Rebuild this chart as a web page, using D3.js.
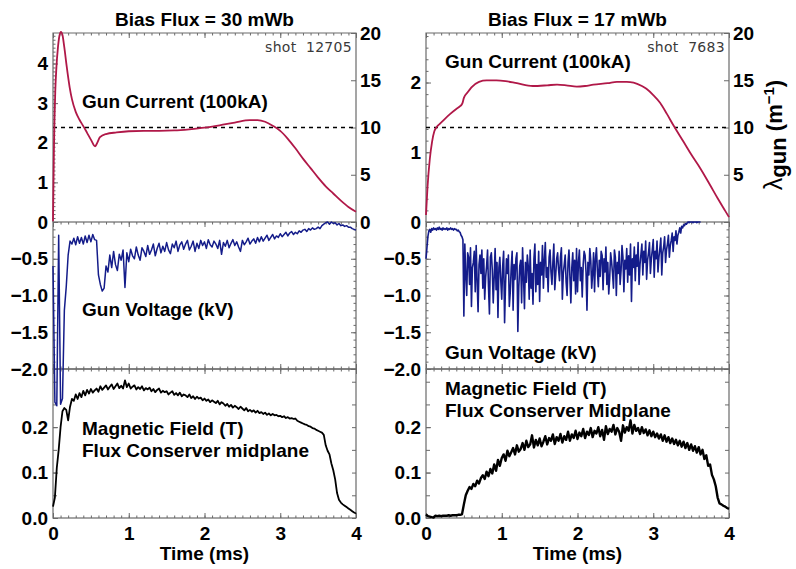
<!DOCTYPE html>
<html><head><meta charset="utf-8">
<script src="https://cdn.jsdelivr.net/npm/d3@7"></script>
<style>
body{margin:0;background:#fff;}
svg{display:block;background:#fff;}
</style></head><body><svg id="chart" width="796" height="569"></svg>
<script>
// ---------------- DATA ----------------
const titles = ["Bias Flux = 30 mWb", "Bias Flux = 17 mWb"];
const shotLabels = ["shot  12705", "shot  7683"];
const timeTicks = [0, 1, 2, 3, 4];
const currentTicks = [[1, 2, 3, 4], [1, 2]];
const currentAxisMax = [4.77, 2.71];      // 100 kA at lambda = 20 m^-1
const currentMinorStep = [0.1, 1 / 6];
const lambdaTicks = [[0, 5, 10, 15, 20], [5, 10, 15, 20]];
const lambdaRef = 10;
const voltageTicks = [0, -0.5, -1.0, -1.5, -2.0];
const fieldTicks = [0.0, 0.1, 0.2];
const voltageStep = [0.025, 0.0125]; // ms between digitized samples
const fieldStep = 0.025;

// Gun current (100 kA), shot 12705
const currentTime30 = [0,0.005,0.012,0.02,0.03,0.045,0.065,0.085,0.105,0.125,0.15,0.18,0.22,0.25,0.3,0.35,0.4,0.45,0.5,0.555,0.58,0.62,0.7,0.84,1.0,1.2,1.4,1.6,1.8,2.0,2.2,2.4,2.6,2.7,2.8,2.9,3.0,3.1,3.2,3.3,3.4,3.5,3.6,3.7,3.8,3.9,4.0];
const current30     = [0.02,0.8,1.8,2.6,3.3,3.9,4.4,4.7,4.8,4.72,4.4,3.94,3.4,3.1,2.78,2.58,2.42,2.25,2.08,1.91,1.98,2.14,2.22,2.26,2.29,2.30,2.30,2.31,2.34,2.38,2.44,2.51,2.57,2.57,2.53,2.43,2.30,2.10,1.86,1.60,1.36,1.12,0.90,0.72,0.54,0.38,0.26];
// Gun current (100 kA), shot 7683
const currentTime17 = [0,0.02,0.05,0.08,0.11,0.14,0.185,0.25,0.32,0.4,0.45,0.48,0.5,0.55,0.6,0.7,0.8,0.93,1.05,1.2,1.41,1.6,1.73,1.85,1.99,2.1,2.21,2.4,2.52,2.65,2.74,2.85,2.91,3.0,3.09,3.18,3.27,3.4,3.5,3.62,3.75,3.85,3.95,4.0];
const current17     = [0.1,0.5,0.9,1.15,1.3,1.36,1.41,1.48,1.55,1.62,1.66,1.70,1.78,1.86,1.93,2.01,2.03,2.03,2.02,1.99,1.95,1.96,1.97,1.96,1.94,1.95,1.97,1.99,2.01,2.01,2.00,1.95,1.91,1.82,1.71,1.55,1.38,1.15,0.97,0.77,0.53,0.34,0.16,0.07];

// Gun voltage (kV), shot 12705, one sample per 0.025 ms from t = 0
const voltage30 = [
-0.60,-2.45,-2.50,-0.18,-2.48,-2.40,-1.20,-0.88,-0.45,-0.26,
-0.30,-0.22,-0.31,-0.20,-0.29,-0.21,-0.30,-0.19,-0.28,-0.18,
-0.27,-0.17,-0.24,-0.25,-0.72,-0.85,-0.94,-0.90,-0.60,-0.68,
-0.45,-0.62,-0.40,-0.58,-0.66,-0.44,-0.52,-0.38,-0.89,-0.42,
-0.54,-0.37,-0.46,-0.50,-0.34,-0.45,-0.52,-0.35,-0.40,-0.47,
-0.32,-0.44,-0.38,-0.30,-0.46,-0.36,-0.29,-0.42,-0.33,-0.40,
-0.28,-0.38,-0.43,-0.30,-0.35,-0.26,-0.40,-0.31,-0.27,-0.37,
-0.30,-0.25,-0.38,-0.33,-0.26,-0.40,-0.29,-0.36,-0.25,-0.32,
-0.27,-0.36,-0.24,-0.31,-0.34,-0.26,-0.30,-0.36,-0.25,-0.44,
-0.28,-0.33,-0.25,-0.35,-0.29,-0.24,-0.32,-0.27,-0.34,-0.40,
-0.25,-0.31,-0.27,-0.22,-0.30,-0.26,-0.23,-0.29,-0.21,-0.27,
-0.20,-0.26,-0.22,-0.18,-0.25,-0.21,-0.17,-0.23,-0.19,-0.21,
-0.16,-0.20,-0.17,-0.14,-0.19,-0.15,-0.13,-0.17,-0.14,-0.16,
-0.12,-0.14,-0.11,-0.10,-0.13,-0.09,-0.11,-0.08,-0.10,-0.09,
-0.07,-0.09,-0.05,-0.03,-0.01,0.00,-0.03,0.00,-0.02,-0.01,
-0.04,-0.02,-0.05,-0.04,-0.06,-0.05,-0.07,-0.07,-0.09,-0.10,
-0.11];
// Gun voltage (kV), shot 7683, one sample per 0.0125 ms from t = 0
const voltage17 = [
-0.50,-0.35,-0.20,-0.12,-0.10,-0.14,-0.09,-0.11,-0.08,-0.10,-0.09,-0.11,-0.08,-0.10,-0.07,-0.10,-0.09,-0.11,-0.08,-0.10,
-0.09,-0.10,-0.08,-0.11,-0.09,-0.10,-0.08,-0.10,-0.09,-0.11,-0.09,-0.10,-0.10,-0.12,-0.11,-0.13,-0.14,-0.18,-0.20,-0.24,
-1.28,-0.30,-0.72,-1.00,-0.42,-0.48,-0.85,-0.35,-1.15,-0.62,-0.55,-0.40,-0.95,-0.32,-0.80,-1.22,-0.58,-0.45,-0.70,-0.38,
-0.90,-0.50,-1.05,-0.75,-0.60,-0.38,-0.88,-1.25,-0.48,-0.42,-0.65,-1.10,-0.75,-0.36,-0.92,-0.55,-1.30,-0.62,-0.48,-0.80,
-1.05,-0.60,-0.40,-1.37,-0.85,-0.50,-0.70,-0.45,-1.15,-0.95,-0.62,-0.40,-1.20,-0.58,-0.78,-0.50,-0.42,-1.49,-0.88,-0.60,
-0.52,-1.10,-0.35,-0.75,-1.18,-0.55,-0.82,-0.45,-0.60,-1.05,-0.38,-0.90,-0.70,-1.12,-0.50,-0.30,-0.95,-0.58,-0.85,-0.40,
-1.08,-0.55,-0.72,-0.32,-0.90,-0.52,-0.28,-0.75,-0.62,-0.95,-0.48,-0.38,-0.68,-0.85,-0.55,-0.30,-0.92,-0.72,-0.50,-0.42,
-0.65,-0.80,-0.48,-0.35,-1.05,-0.70,-0.58,-0.45,-0.82,-1.00,-0.55,-0.38,-0.75,-1.10,-0.62,-0.42,-0.80,-0.52,-0.98,-0.36,
-0.95,-0.55,-0.38,-0.80,-0.62,-1.02,-0.58,-0.40,-0.45,-0.68,-1.20,-0.55,-0.72,-0.36,-0.52,-0.90,-0.70,-0.42,-0.95,-0.50,
-0.35,-0.66,-0.88,-0.52,-0.74,-0.40,-0.45,-0.92,-0.50,-0.68,-0.34,-0.85,-0.55,-0.98,-0.76,-0.42,-0.54,-0.70,-0.90,-0.38,
-0.48,-1.00,-0.55,-0.70,-0.40,-0.85,-0.66,-0.32,-0.48,-0.95,-0.52,-0.64,-0.36,-0.82,-0.46,-0.72,-0.30,-1.08,-0.50,-0.62,
-0.34,-0.80,-0.45,-0.60,-0.28,-0.85,-0.58,-0.44,-0.30,-0.72,-0.40,-0.55,-0.26,-0.78,-0.52,-0.42,-0.28,-0.70,-0.50,-0.38,
-0.24,-0.75,-0.40,-0.50,-0.26,-0.68,-0.48,-0.36,-0.22,-0.72,-0.42,-0.34,-0.20,-0.55,-0.38,-0.30,-0.18,-0.48,-0.32,-0.25,
-0.15,-0.40,-0.20,-0.25,-0.12,-0.30,-0.18,-0.14,-0.08,-0.15,-0.06,-0.08,-0.04,-0.05,-0.02,-0.03,-0.01,0.00,-0.01,0.00,
0.00,0.00,-0.01,0.00,0.00,0.00,-0.01,0.00,0.00,0.00,0.00];

// Magnetic field (T), flux conserver midplane, shot 12705, one sample per 0.025 ms
const field30 = [
0.025,0.045,0.110,0.150,0.200,0.235,0.242,0.238,0.215,0.245,
0.262,0.258,0.272,0.262,0.275,0.266,0.280,0.270,0.282,0.274,
0.284,0.276,0.281,0.285,0.278,0.290,0.282,0.287,0.292,0.283,
0.289,0.294,0.284,0.290,0.296,0.286,0.291,0.285,0.303,0.288,
0.296,0.285,0.289,0.292,0.283,0.288,0.284,0.290,0.281,0.286,
0.283,0.287,0.279,0.284,0.277,0.282,0.285,0.276,0.280,0.277,
0.279,0.272,0.276,0.279,0.271,0.275,0.270,0.276,0.268,0.272,
0.270,0.266,0.272,0.264,0.268,0.262,0.267,0.263,0.265,0.259,
0.263,0.258,0.261,0.255,0.259,0.256,0.253,0.258,0.250,0.255,
0.252,0.247,0.251,0.245,0.249,0.243,0.247,0.244,0.240,0.245,
0.241,0.237,0.242,0.235,0.238,0.234,0.237,0.232,0.236,0.231,
0.233,0.229,0.232,0.227,0.230,0.226,0.229,0.226,0.227,0.224,
0.225,0.222,0.224,0.220,0.222,0.219,0.220,0.218,0.219,0.214,
0.212,0.210,0.208,0.206,0.205,0.202,0.201,0.198,0.197,0.194,
0.192,0.190,0.188,0.183,0.160,0.148,0.140,0.120,0.105,0.085,
0.055,0.040,0.034,0.030,0.027,0.024,0.021,0.018,0.015,0.012,
0.010];
// Magnetic field (T), flux conserver midplane, shot 7683, one sample per 0.025 ms
const field17 = [
0.008,0.004,0.003,0.002,0.001,0.005,0.004,0.005,0.004,0.005,
0.005,0.005,0.006,0.005,0.006,0.006,0.006,0.007,0.007,0.008,
0.030,0.050,0.060,0.068,0.064,0.075,0.070,0.082,0.076,0.088,
0.094,0.086,0.102,0.092,0.108,0.098,0.118,0.104,0.128,0.115,
0.132,0.140,0.126,0.148,0.136,0.145,0.154,0.140,0.160,0.146,
0.152,0.165,0.150,0.170,0.156,0.162,0.182,0.155,0.172,0.160,
0.175,0.158,0.168,0.180,0.162,0.176,0.170,0.184,0.163,0.178,
0.170,0.185,0.166,0.180,0.172,0.190,0.170,0.184,0.176,0.192,
0.174,0.188,0.180,0.196,0.176,0.190,0.183,0.198,0.178,0.192,
0.186,0.200,0.180,0.194,0.172,0.202,0.185,0.196,0.190,0.205,
0.184,0.198,0.190,0.170,0.204,0.188,0.200,0.192,0.215,0.186,
0.205,0.192,0.198,0.185,0.200,0.187,0.195,0.182,0.193,0.180,
0.190,0.178,0.186,0.175,0.184,0.170,0.182,0.168,0.178,0.165,
0.175,0.163,0.172,0.160,0.170,0.157,0.168,0.154,0.165,0.150,
0.162,0.148,0.158,0.144,0.156,0.140,0.150,0.130,0.138,0.115,
0.118,0.095,0.085,0.070,0.045,0.032,0.030,0.027,0.025,0.022,
0.020];

// ---------------- DRAWING ----------------
const svg = d3.select("#chart");
const FONT = "'Liberation Sans', Arial, Helvetica, sans-serif";
const frameColor = "#6a6a6a";
const currentColor = "#b01848";
const voltageColor = "#141c8a";
const fieldColor = "#000";

const columns = [{x0: 53, x1: 356}, {x0: 426, x1: 729}];
const rowTop = [33, 222], rowMid = [222, 369], rowBot = [369, 518];

const currents = [[currentTime30, current30], [currentTime17, current17]];
const voltages = [voltage30, voltage17];
const voltageWidths = [1.5, 1.6];
const fields = [field30, field17];
const fieldWidths = [1.8, 2.4];
const fieldMax = 0.328;

function styleAxis(g, size) {
  g.select(".domain").remove();
  g.attr("color", frameColor)
   .attr("font-family", FONT)
   .attr("font-size", size || 19)
   .attr("font-weight", "bold");
  g.selectAll("text").attr("fill", "#000");
  g.selectAll("line").attr("stroke-width", 1);
  return g;
}
function addAxis(gen, tx, ty, size) {
  const g = svg.append("g").attr("transform", `translate(${tx},${ty})`).call(gen);
  return styleAxis(g, size);
}
const fmtV = v => v === 0 ? "0" : d3.format(".1f")(v);
const fmtB = d3.format(".1f");

columns.forEach((col, c) => {
  const x = d3.scaleLinear().domain([0, 4]).range([col.x0, col.x1]);
  const yI = d3.scaleLinear().domain([0, currentAxisMax[c]]).range([rowTop[1], rowTop[0]]);
  const yL = d3.scaleLinear().domain([0, 20]).range([rowTop[1], rowTop[0]]);
  const yV = d3.scaleLinear().domain([-2, 0]).range([rowMid[1], rowMid[0]]);
  const yB = d3.scaleLinear().domain([0, fieldMax]).range([rowBot[1], rowBot[0]]);
  const minorT = x.ticks(40);

  // frames
  svg.append("path")
    .attr("d", `M${col.x0},${rowTop[1]}V${rowTop[0]}H${col.x1}V${rowTop[1]}`)
    .attr("fill", "none").attr("stroke", frameColor).attr("stroke-width", 1.2);
  [rowMid, rowBot].forEach(r => {
    svg.append("rect").attr("x", col.x0).attr("y", r[0])
      .attr("width", col.x1 - col.x0).attr("height", r[1] - r[0])
      .attr("fill", "none").attr("stroke", frameColor).attr("stroke-width", 1.2);
  });

  // time ticks on each horizontal frame line
  [[rowTop[0], "top"], [rowMid[0], "top"], [rowMid[1], "bottom"], [rowBot[0], "top"]].forEach(([yy, side]) => {
    const mk = side === "top" ? d3.axisTop : d3.axisBottom;
    addAxis(mk(x).tickValues(minorT).tickSize(-2.5).tickFormat(""), 0, yy);
    addAxis(mk(x).tickValues(timeTicks).tickSize(-5).tickFormat(""), 0, yy);
  });
  addAxis(d3.axisBottom(x).tickValues(minorT).tickSize(-2.5).tickFormat(""), 0, rowBot[1]);
  addAxis(d3.axisBottom(x).tickValues(timeTicks).tickSize(-5).tickPadding(9).tickFormat(d3.format("d")), 0, rowBot[1], 19);

  // current axis (left) and lambda axis (right)
  const cMinor = d3.range(0, currentAxisMax[c] + 1e-9, currentMinorStep[c]);
  addAxis(d3.axisLeft(yI).tickValues(cMinor).tickSize(-2.5).tickFormat(""), col.x0, 0);
  addAxis(d3.axisLeft(yI).tickValues(currentTicks[c]).tickSize(-5).tickPadding(5).tickFormat(d3.format("d")), col.x0, 0);
  addAxis(d3.axisRight(yL).tickValues(lambdaTicks[c]).tickSize(-5).tickPadding(4).tickFormat(d3.format("d")), col.x1, 0);

  // voltage axes
  const vMinor = yV.ticks(20);
  addAxis(d3.axisLeft(yV).tickValues(vMinor).tickSize(-2.5).tickFormat(""), col.x0, 0);
  addAxis(d3.axisLeft(yV).tickValues(voltageTicks).tickSize(-5).tickPadding(5).tickFormat(fmtV), col.x0, 0);
  addAxis(d3.axisRight(yV).tickValues(vMinor).tickSize(-2.5).tickFormat(""), col.x1, 0);
  addAxis(d3.axisRight(yV).tickValues(voltageTicks).tickSize(-5).tickFormat(""), col.x1, 0);

  // field axes
  const bMinor = yB.ticks(6);
  addAxis(d3.axisLeft(yB).tickValues(bMinor).tickSize(-4).tickFormat(""), col.x0, 0);
  addAxis(d3.axisLeft(yB).tickValues(fieldTicks).tickSize(-5).tickPadding(5).tickFormat(fmtB), col.x0, 0);
  addAxis(d3.axisRight(yB).tickValues(bMinor).tickSize(-4).tickFormat(""), col.x1, 0);

  // lambda = 10 reference line
  svg.append("line")
    .attr("x1", col.x0).attr("x2", col.x1)
    .attr("y1", yL(lambdaRef)).attr("y2", yL(lambdaRef))
    .attr("stroke", "#000").attr("stroke-width", 1.5).attr("stroke-dasharray", "4,4");

  // series
  const [ct, cv] = currents[c];
  const lineI = d3.line().x(i => x(ct[i])).y(i => yI(cv[i])).curve(d3.curveMonotoneX);
  svg.append("path").attr("d", lineI(d3.range(ct.length)))
    .attr("fill", "none").attr("stroke", currentColor).attr("stroke-width", 1.8);

  const lineV = d3.line().x((d, i) => x(i * voltageStep[c])).y(d => yV(d));
  svg.append("path").attr("d", lineV(voltages[c]))
    .attr("fill", "none").attr("stroke", voltageColor).attr("stroke-width", voltageWidths[c])
    .attr("stroke-linejoin", "round");

  const lineB = d3.line().x((d, i) => x(i * fieldStep)).y(d => yB(d));
  svg.append("path").attr("d", lineB(fields[c]))
    .attr("fill", "none").attr("stroke", fieldColor).attr("stroke-width", fieldWidths[c])
    .attr("stroke-linejoin", "round");

  // texts
  const T = (tx, ty, s, size, opts = {}) => svg.append("text")
    .attr("x", tx).attr("y", ty).text(s)
    .attr("font-family", opts.family || FONT)
    .attr("font-size", size)
    .attr("font-weight", opts.weight || "bold")
    .attr("fill", opts.fill || "#000")
    .attr("text-anchor", opts.anchor || "start")
    .attr("xml:space", "preserve")
    .style("white-space", "pre")
    .style("letter-spacing", opts.ls || "0px");

  T((col.x0 + col.x1) / 2, 26, titles[c], 19, {anchor: "middle"});
  T(col.x1 - 4, 52, shotLabels[c], 14, {anchor: "end", weight: "normal", fill: "#3a3a3a", family: "'DejaVu Sans', sans-serif", ls: "0.3px"});
  T((col.x0 + col.x1) / 2, 560, "Time (ms)", 19, {anchor: "middle"});
  if (c === 0) {
    T(82, 108, "Gun Current (100kA)", 19);
    T(82, 316, "Gun Voltage (kV)", 19);
    T(82, 435, "Magnetic Field (T)", 19);
    T(82, 457, "Flux Conserver midplane", 19);
  } else {
    T(445, 68, "Gun Current (100kA)", 19);
    T(445, 359, "Gun Voltage (kV)", 19);
    T(445, 395, "Magnetic Field (T)", 19);
    T(445, 417, "Flux Conserver Midplane", 19);
  }
});

// right-hand lambda label
const lab = svg.append("text")
  .attr("transform", "translate(782,135) rotate(-90)")
  .attr("text-anchor", "middle")
  .attr("font-family", FONT).attr("font-weight", "bold").attr("font-size", 22).attr("fill", "#000");
lab.append("tspan").attr("font-weight", "normal").attr("font-size", 25).text("λ");
lab.append("tspan").attr("dy", 4).text("gun");
lab.append("tspan").attr("dy", -4).text(" (m");
lab.append("tspan").attr("dy", -8).attr("font-size", 15).text("−1");
lab.append("tspan").attr("dy", 8).text(")");
</script></body></html>
